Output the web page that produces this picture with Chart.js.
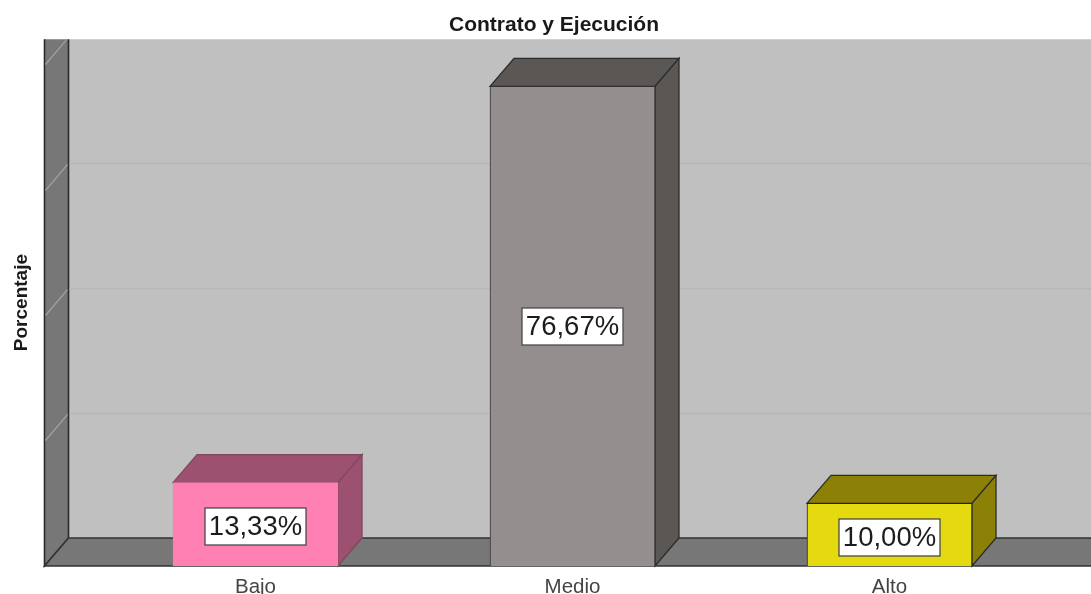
<!DOCTYPE html>
<html>
<head>
<meta charset="utf-8">
<title>Contrato y Ejecución</title>
<script src="https://cdn.jsdelivr.net/npm/chart.js@4"></script>
<style>
    body { margin: 0; background: #fff; }
    canvas { display: block; }
</style>
</head>
<body>
<canvas id="grafico" width="1091" height="594"></canvas>
<script>
const categorias = ['Bajo', 'Medio', 'Alto']
const porcentajes = [13.33, 76.67, 10.00]
const marcasEje = [20, 40, 60, 80]
const coloresFrente = ['#ff80b3', '#948f8e', '#e5d90f']
const coloresLado = ['#9b516f', '#5a5755', '#8c8106']
const coloresBorde = ['#f77fae', '#333333', '#222222']

const PROF_X = 24
const PROF_Y = 28
const FUENTE = '"Liberation Sans", Arial, sans-serif'

function poligono(ctx, puntos, relleno, borde, grosor = 1) {
    ctx.beginPath()
    ctx.moveTo(puntos[0][0], puntos[0][1])
    for (let i = 1; i < puntos.length; i++)
        ctx.lineTo(puntos[i][0], puntos[i][1])
    ctx.closePath()
    ctx.fillStyle = relleno
    ctx.fill()
    if (borde) {
        ctx.strokeStyle = borde
        ctx.lineWidth = grosor
        ctx.stroke()
    }
}

// paredes y piso en perspectiva, detras de las barras
const paredes = {
    id: 'paredes',
    beforeDatasetsDraw(chart) {
        const ctx = chart.ctx
        const y = chart.scales.y
        const arriba = chart.chartArea.top
        const abajo = chart.chartArea.bottom
        const izq = 44.5
        const der = chart.width + 2
        const fondoX = izq + PROF_X
        const fondoY = abajo - PROF_Y

        ctx.save()
        poligono(ctx, [[fondoX, arriba], [der, arriba], [der, fondoY], [fondoX, fondoY]], '#c0c0c0')

        ctx.save()
        ctx.beginPath()
        ctx.rect(izq - 2, arriba, der - izq + 2, abajo - arriba + 2)
        ctx.clip()
        poligono(ctx, [[izq, arriba - 4], [fondoX, arriba - 4], [fondoX, fondoY], [izq, abajo]], '#777777', '#2a2a2a', 1.6)
        poligono(ctx, [[izq, abajo], [fondoX, fondoY], [der, fondoY], [der, abajo]], '#777777', '#333333', 1.6)

        marcasEje.forEach(v => {
            const py = Math.round(y.getPixelForValue(v)) + 0.5
            ctx.lineWidth = 1.6
            ctx.strokeStyle = '#b6b6b6'
            ctx.beginPath()
            ctx.moveTo(fondoX + 1, py - PROF_Y)
            ctx.lineTo(der, py - PROF_Y)
            ctx.stroke()
            ctx.lineWidth = 1.2
            ctx.strokeStyle = '#a0a0a0'
            ctx.beginPath()
            ctx.moveTo(izq + 1, py - 1)
            ctx.lineTo(fondoX - 1, py - PROF_Y + 1)
            ctx.stroke()
        })
        ctx.restore()
        ctx.restore()
    }
}

// caras superior y lateral de cada barra
const caras = {
    id: 'caras',
    beforeDatasetDraw(chart) {
        const ctx = chart.ctx
        chart.getDatasetMeta(0).data.forEach((barra, i) => {
            const p = barra.getProps(['x', 'y', 'base', 'width'])
            const izq = p.x - p.width / 2
            const der = p.x + p.width / 2
            const borde = i === 0 ? '#80485f' : '#2b2b2b'
            poligono(ctx, [[izq, p.y], [izq + PROF_X, p.y - PROF_Y], [der + PROF_X, p.y - PROF_Y], [der, p.y]], coloresLado[i], borde, 1.3)
            poligono(ctx, [[der, p.y], [der + PROF_X, p.y - PROF_Y], [der + PROF_X, p.base - PROF_Y], [der, p.base]], coloresLado[i], borde, 1.3)
        })
    }
}

// etiqueta blanca con el porcentaje en el centro de la barra
const etiquetas = {
    id: 'etiquetas',
    afterDatasetsDraw(chart) {
        const ctx = chart.ctx
        ctx.save()
        ctx.font = '27.5px ' + FUENTE
        ctx.textAlign = 'center'
        ctx.textBaseline = 'middle'
        chart.getDatasetMeta(0).data.forEach((barra, i) => {
            const p = barra.getProps(['x', 'y', 'base'])
            const texto = porcentajes[i].toFixed(2).replace('.', ',') + '%'
            const ancho = 101
            const alto = 37
            const cx = Math.round(p.x) - 0.5
            const cy = Math.round((p.y + p.base) / 2) + (i === 1 ? 0.5 : 2.5)
            ctx.fillStyle = '#ffffff'
            ctx.strokeStyle = '#4a4a4a'
            ctx.lineWidth = 1.3
            ctx.fillRect(cx - ancho / 2, cy - alto / 2, ancho, alto)
            ctx.strokeRect(cx - ancho / 2, cy - alto / 2, ancho, alto)
            ctx.fillStyle = '#1c1c1c'
            ctx.fillText(texto, cx, cy + 1)
        })
        ctx.restore()
    }
}

new Chart(document.getElementById('grafico'), {
    type: 'bar',
    data: {
        labels: categorias,
        datasets: [{
            label: 'Porcentaje',
            data: porcentajes,
            backgroundColor: coloresFrente,
            borderColor: coloresBorde,
            borderWidth: 1,
            barThickness: 165
        }]
    },
    options: {
        responsive: false,
        animation: false,
        layout: { padding: { left: 17, right: 0, top: 0, bottom: 0 } },
        plugins: {
            legend: { display: false },
            tooltip: { enabled: false },
            title: {
                display: true,
                text: 'Contrato y Ejecución',
                color: '#1a1a1a',
                font: { family: FUENTE, size: 21, weight: 'bold' },
                padding: { top: 13, bottom: 1 }
            }
        },
        scales: {
            x: {
                grid: { display: false },
                border: { display: false },
                ticks: {
                    color: '#444444',
                    font: { family: FUENTE, size: 20.5 },
                    padding: 1,
                    maxRotation: 0
                },
                afterFit(escala) { escala.height = 28 }
            },
            y: {
                min: 0,
                max: 84.2,
                grid: { display: false },
                border: { display: false },
                ticks: { display: false, stepSize: 20 },
                title: {
                    display: true,
                    text: 'Porcentaje',
                    color: '#1a1a1a',
                    font: { family: FUENTE, size: 19, weight: 'bold' },
                    padding: { top: -7, bottom: 0 }
                },
                afterFit(escala) { escala.width = 80 }
            },
            derecha: {
                position: 'right',
                grid: { display: false },
                border: { display: false },
                ticks: { display: false },
                afterFit(escala) { escala.width = 43 }
            }
        }
    },
    plugins: [paredes, caras, etiquetas]
})
</script>
</body>
</html>
